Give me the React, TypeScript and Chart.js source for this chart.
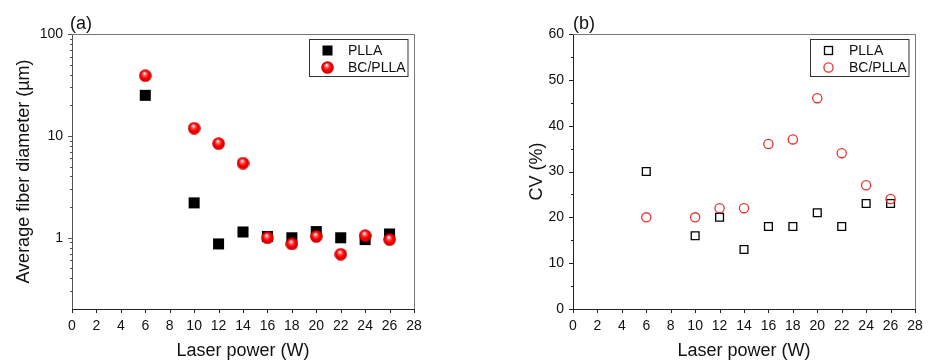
import React, { useEffect, useRef } from "react";
import { Chart, registerables } from "chart.js";

Chart.register(...registerables);

// ---------- data ----------
const laserPower = [6, 10, 12, 14, 16, 18, 20, 22, 24, 26];
const diameterPLLA = [25, 2.2, 0.87, 1.14, 1.03, 1.0, 1.15, 1.0, 0.96, 1.09];
const diameterBCPLLA = [39, 11.9, 8.4, 5.4, 1.0, 0.87, 1.03, 0.69, 1.05, 0.96];
const cvPLLA = [30, 16, 20, 13, 18, 18, 21, 18, 23, 23];
const cvBCPLLA = [20, 20, 22, 22, 36, 37, 46, 34, 27, 24];
const seriesNames = ["PLLA", "BC/PLLA"];

const xTicks = [0, 2, 4, 6, 8, 10, 12, 14, 16, 18, 20, 22, 24, 26, 28];
const diameterMajorTicks = [1, 10, 100];
const diameterMinorTicks = [0.3, 0.4, 0.5, 0.6, 0.7, 0.8, 0.9, 2, 3, 4, 5, 6, 7, 8, 9, 20, 30, 40, 50, 60, 70, 80, 90];
const cvMajorTicks = [0, 10, 20, 30, 40, 50, 60];
const cvMinorTicks = [5, 15, 25, 35, 45, 55];

const FONT = "'Liberation Sans', Arial, sans-serif";
const TEXT = "#111111";
const RED = "rgb(232,48,48)";

function makeSphere(d: number): HTMLCanvasElement {
  const c = document.createElement("canvas");
  c.width = d;
  c.height = d;
  const g = c.getContext("2d")!;
  const r = d / 2;
  const grad = g.createRadialGradient(r * 0.85, r * 0.62, 0.3, r, r, r);
  grad.addColorStop(0, "#ffffff");
  grad.addColorStop(0.22, "#ff7070");
  grad.addColorStop(0.55, "#ff0000");
  grad.addColorStop(1, "#c40000");
  g.fillStyle = grad;
  g.beginPath();
  g.arc(r, r, r - 0.2, 0, Math.PI * 2);
  g.fill();
  return c;
}

type Decor = {
  label: string;
  labelDx: number;
  yMajor: number[];
  yMinor: number[];
  leftColor: string;
  drawMarker: (ctx: CanvasRenderingContext2D, i: number, x: number, y: number) => void;
};

function decorPlugin(d: Decor) {
  return {
    id: "decor",
    afterDraw(chart: any) {
      const { ctx, chartArea: a } = chart;
      const xs = chart.scales.x;
      const ys = chart.scales.y;
      ctx.save();
      ctx.lineWidth = 1;
      // top / right frame
      ctx.strokeStyle = "#777777";
      ctx.beginPath();
      ctx.moveTo(Math.round(a.left), Math.round(a.top) + 0.5);
      ctx.lineTo(Math.round(a.right) + 0.5, Math.round(a.top) + 0.5);
      ctx.lineTo(Math.round(a.right) + 0.5, Math.round(a.bottom));
      ctx.stroke();
      // y ticks
      ctx.strokeStyle = d.leftColor;
      const lx = Math.round(a.left);
      ctx.beginPath();
      for (const v of d.yMajor) {
        const py = Math.round(ys.getPixelForValue(v)) + 0.5;
        ctx.moveTo(lx - 4, py);
        ctx.lineTo(lx, py);
      }
      for (const v of d.yMinor) {
        const py = Math.round(ys.getPixelForValue(v)) + 0.5;
        ctx.moveTo(lx - 2, py);
        ctx.lineTo(lx, py);
      }
      ctx.stroke();
      // x ticks
      ctx.strokeStyle = "#222222";
      const by = Math.round(a.bottom);
      ctx.beginPath();
      for (const v of xTicks) {
        const px = Math.round(xs.getPixelForValue(v)) + 0.5;
        ctx.moveTo(px, by);
        ctx.lineTo(px, by + 4);
      }
      ctx.stroke();
      // panel label
      ctx.fillStyle = TEXT;
      ctx.font = `18px ${FONT}`;
      ctx.textAlign = "left";
      ctx.textBaseline = "alphabetic";
      ctx.fillText(d.label, a.left + d.labelDx, 29);
      // legend
      const bw = 98.5;
      const bh = 37;
      const bx = Math.round(a.right - 7 - bw) + 0.5;
      const bY = Math.round(a.top + 5) + 0.5;
      ctx.strokeStyle = "#333333";
      ctx.strokeRect(bx, bY, bw, bh);
      ctx.font = `14px ${FONT}`;
      ctx.textBaseline = "middle";
      seriesNames.forEach((name, i) => {
        const cy = bY + 11 + i * 17;
        d.drawMarker(ctx, i, bx + 18, cy);
        ctx.fillStyle = TEXT;
        ctx.fillText(name, bx + 38.5, cy + 0.5);
      });
      ctx.restore();
    },
  };
}

function baseX() {
  return {
    type: "linear" as const,
    position: "bottom" as const,
    min: 0,
    max: 28,
    afterBuildTicks: (s: any) => {
      s.ticks = xTicks.map((v) => ({ value: v }));
    },
    afterFit: (s: any) => {
      s.height = 54;
    },
    ticks: {
      autoSkip: false,
      maxRotation: 0,
      padding: 5,
      color: TEXT,
      font: { family: FONT, size: 14 },
      callback: (v: any) => String(v),
    },
    grid: { drawOnChartArea: false, drawTicks: true, tickLength: 4, tickColor: "transparent" },
    border: { color: "#222222", width: 1 },
    title: {
      display: true,
      text: "Laser power (W)",
      color: TEXT,
      font: { family: FONT, size: 18 },
      padding: { top: 0, bottom: 1 },
    },
  };
}

export default function App() {
  const ref1 = useRef<HTMLCanvasElement>(null);
  const ref2 = useRef<HTMLCanvasElement>(null);

  useEffect(() => {
    const sphere = makeSphere(13);

    const c1 = new Chart(ref1.current!, {
      type: "scatter",
      data: {
        datasets: [
          {
            label: seriesNames[0],
            data: laserPower.map((x, i) => ({ x, y: diameterPLLA[i] })),
            pointStyle: "rect",
            pointRadius: 7.8,
            backgroundColor: "#000000",
            borderColor: "#000000",
            borderWidth: 0,
            order: 1,
          },
          {
            label: seriesNames[1],
            data: laserPower.map((x, i) => ({ x, y: diameterBCPLLA[i] })),
            pointStyle: sphere,
            pointRadius: 6.5,
            order: 0,
          },
        ],
      },
      options: {
        animation: false,
        responsive: false,
        maintainAspectRatio: false,
        layout: { padding: { left: 0, right: 50, top: 34, bottom: 0 } },
        plugins: { legend: { display: false }, tooltip: { enabled: false } },
        scales: {
          x: baseX() as any,
          y: {
            type: "logarithmic",
            min: 0.2,
            max: 100,
            afterBuildTicks: (s: any) => {
              s.ticks = diameterMajorTicks.map((v) => ({ value: v, major: true }));
            },
            afterFit: (s: any) => {
              s.width = 72;
            },
            ticks: {
              autoSkip: false,
              padding: 5,
              color: TEXT,
              font: { family: FONT, size: 14 },
              callback: (v: any) => String(v),
            },
            grid: { drawOnChartArea: false, drawTicks: true, tickLength: 4, tickColor: "transparent" },
            border: { color: "#555555", width: 1 },
            title: {
              display: true,
              text: "Average fiber diameter (µm)",
              color: TEXT,
              font: { family: FONT, size: 18 },
              padding: { top: 13, bottom: 0 },
            },
          } as any,
        },
      },
      plugins: [
        decorPlugin({
          label: "(a)",
          labelDx: -2,
          yMajor: diameterMajorTicks,
          yMinor: diameterMinorTicks,
          leftColor: "#555555",
          drawMarker: (ctx, i, x, y) => {
            if (i === 0) {
              ctx.fillStyle = "#000000";
              ctx.fillRect(x - 5, y - 5, 10, 10);
            } else {
              ctx.drawImage(sphere, x - 6.5, y - 6.5);
            }
          },
        }) as any,
      ],
    });

    const c2 = new Chart(ref2.current!, {
      type: "scatter",
      data: {
        datasets: [
          {
            label: seriesNames[0],
            data: laserPower.map((x, i) => ({ x, y: cvPLLA[i] })),
            pointStyle: "rect",
            pointRadius: 5.5,
            backgroundColor: "rgba(0,0,0,0)",
            borderColor: "#000000",
            borderWidth: 1.3,
            order: 1,
          },
          {
            label: seriesNames[1],
            data: laserPower.map((x, i) => ({ x, y: cvBCPLLA[i] })),
            pointStyle: "circle",
            pointRadius: 4.6,
            backgroundColor: "rgba(0,0,0,0)",
            borderColor: RED,
            borderWidth: 1.3,
            order: 0,
          },
        ],
      },
      options: {
        animation: false,
        responsive: false,
        maintainAspectRatio: false,
        layout: { padding: { left: 0, right: 13, top: 34, bottom: 0 } },
        plugins: { legend: { display: false }, tooltip: { enabled: false } },
        scales: {
          x: baseX() as any,
          y: {
            type: "linear",
            min: 0,
            max: 60,
            afterBuildTicks: (s: any) => {
              s.ticks = cvMajorTicks.map((v) => ({ value: v }));
            },
            afterFit: (s: any) => {
              s.width = 109;
            },
            ticks: {
              autoSkip: false,
              padding: 5,
              color: TEXT,
              font: { family: FONT, size: 14 },
              callback: (v: any) => String(v),
            },
            grid: { drawOnChartArea: false, drawTicks: true, tickLength: 4, tickColor: "transparent" },
            border: { color: "#222222", width: 1 },
            title: {
              display: true,
              text: "CV (%)",
              color: TEXT,
              font: { family: FONT, size: 18 },
              padding: { top: 62, bottom: 0 },
            },
          } as any,
        },
      },
      plugins: [
        decorPlugin({
          label: "(b)",
          labelDx: 0,
          yMajor: cvMajorTicks,
          yMinor: cvMinorTicks,
          leftColor: "#222222",
          drawMarker: (ctx, i, x, y) => {
            ctx.lineWidth = 1.3;
            if (i === 0) {
              ctx.strokeStyle = "#000000";
              ctx.strokeRect(x - 4, y - 4, 8, 8);
            } else {
              ctx.strokeStyle = RED;
              ctx.beginPath();
              ctx.arc(x, y, 4.6, 0, Math.PI * 2);
              ctx.stroke();
            }
            ctx.lineWidth = 1;
          },
        }) as any,
      ],
    });

    return () => {
      c1.destroy();
      c2.destroy();
    };
  }, []);

  return (
    <div style={{ position: "absolute", left: 0, top: 0, width: 928, height: 363, background: "#ffffff" }}>
      <canvas ref={ref1} width={464} height={363} style={{ position: "absolute", left: 0, top: 0 }} />
      <canvas ref={ref2} width={464} height={363} style={{ position: "absolute", left: 464, top: 0 }} />
    </div>
  );
}
